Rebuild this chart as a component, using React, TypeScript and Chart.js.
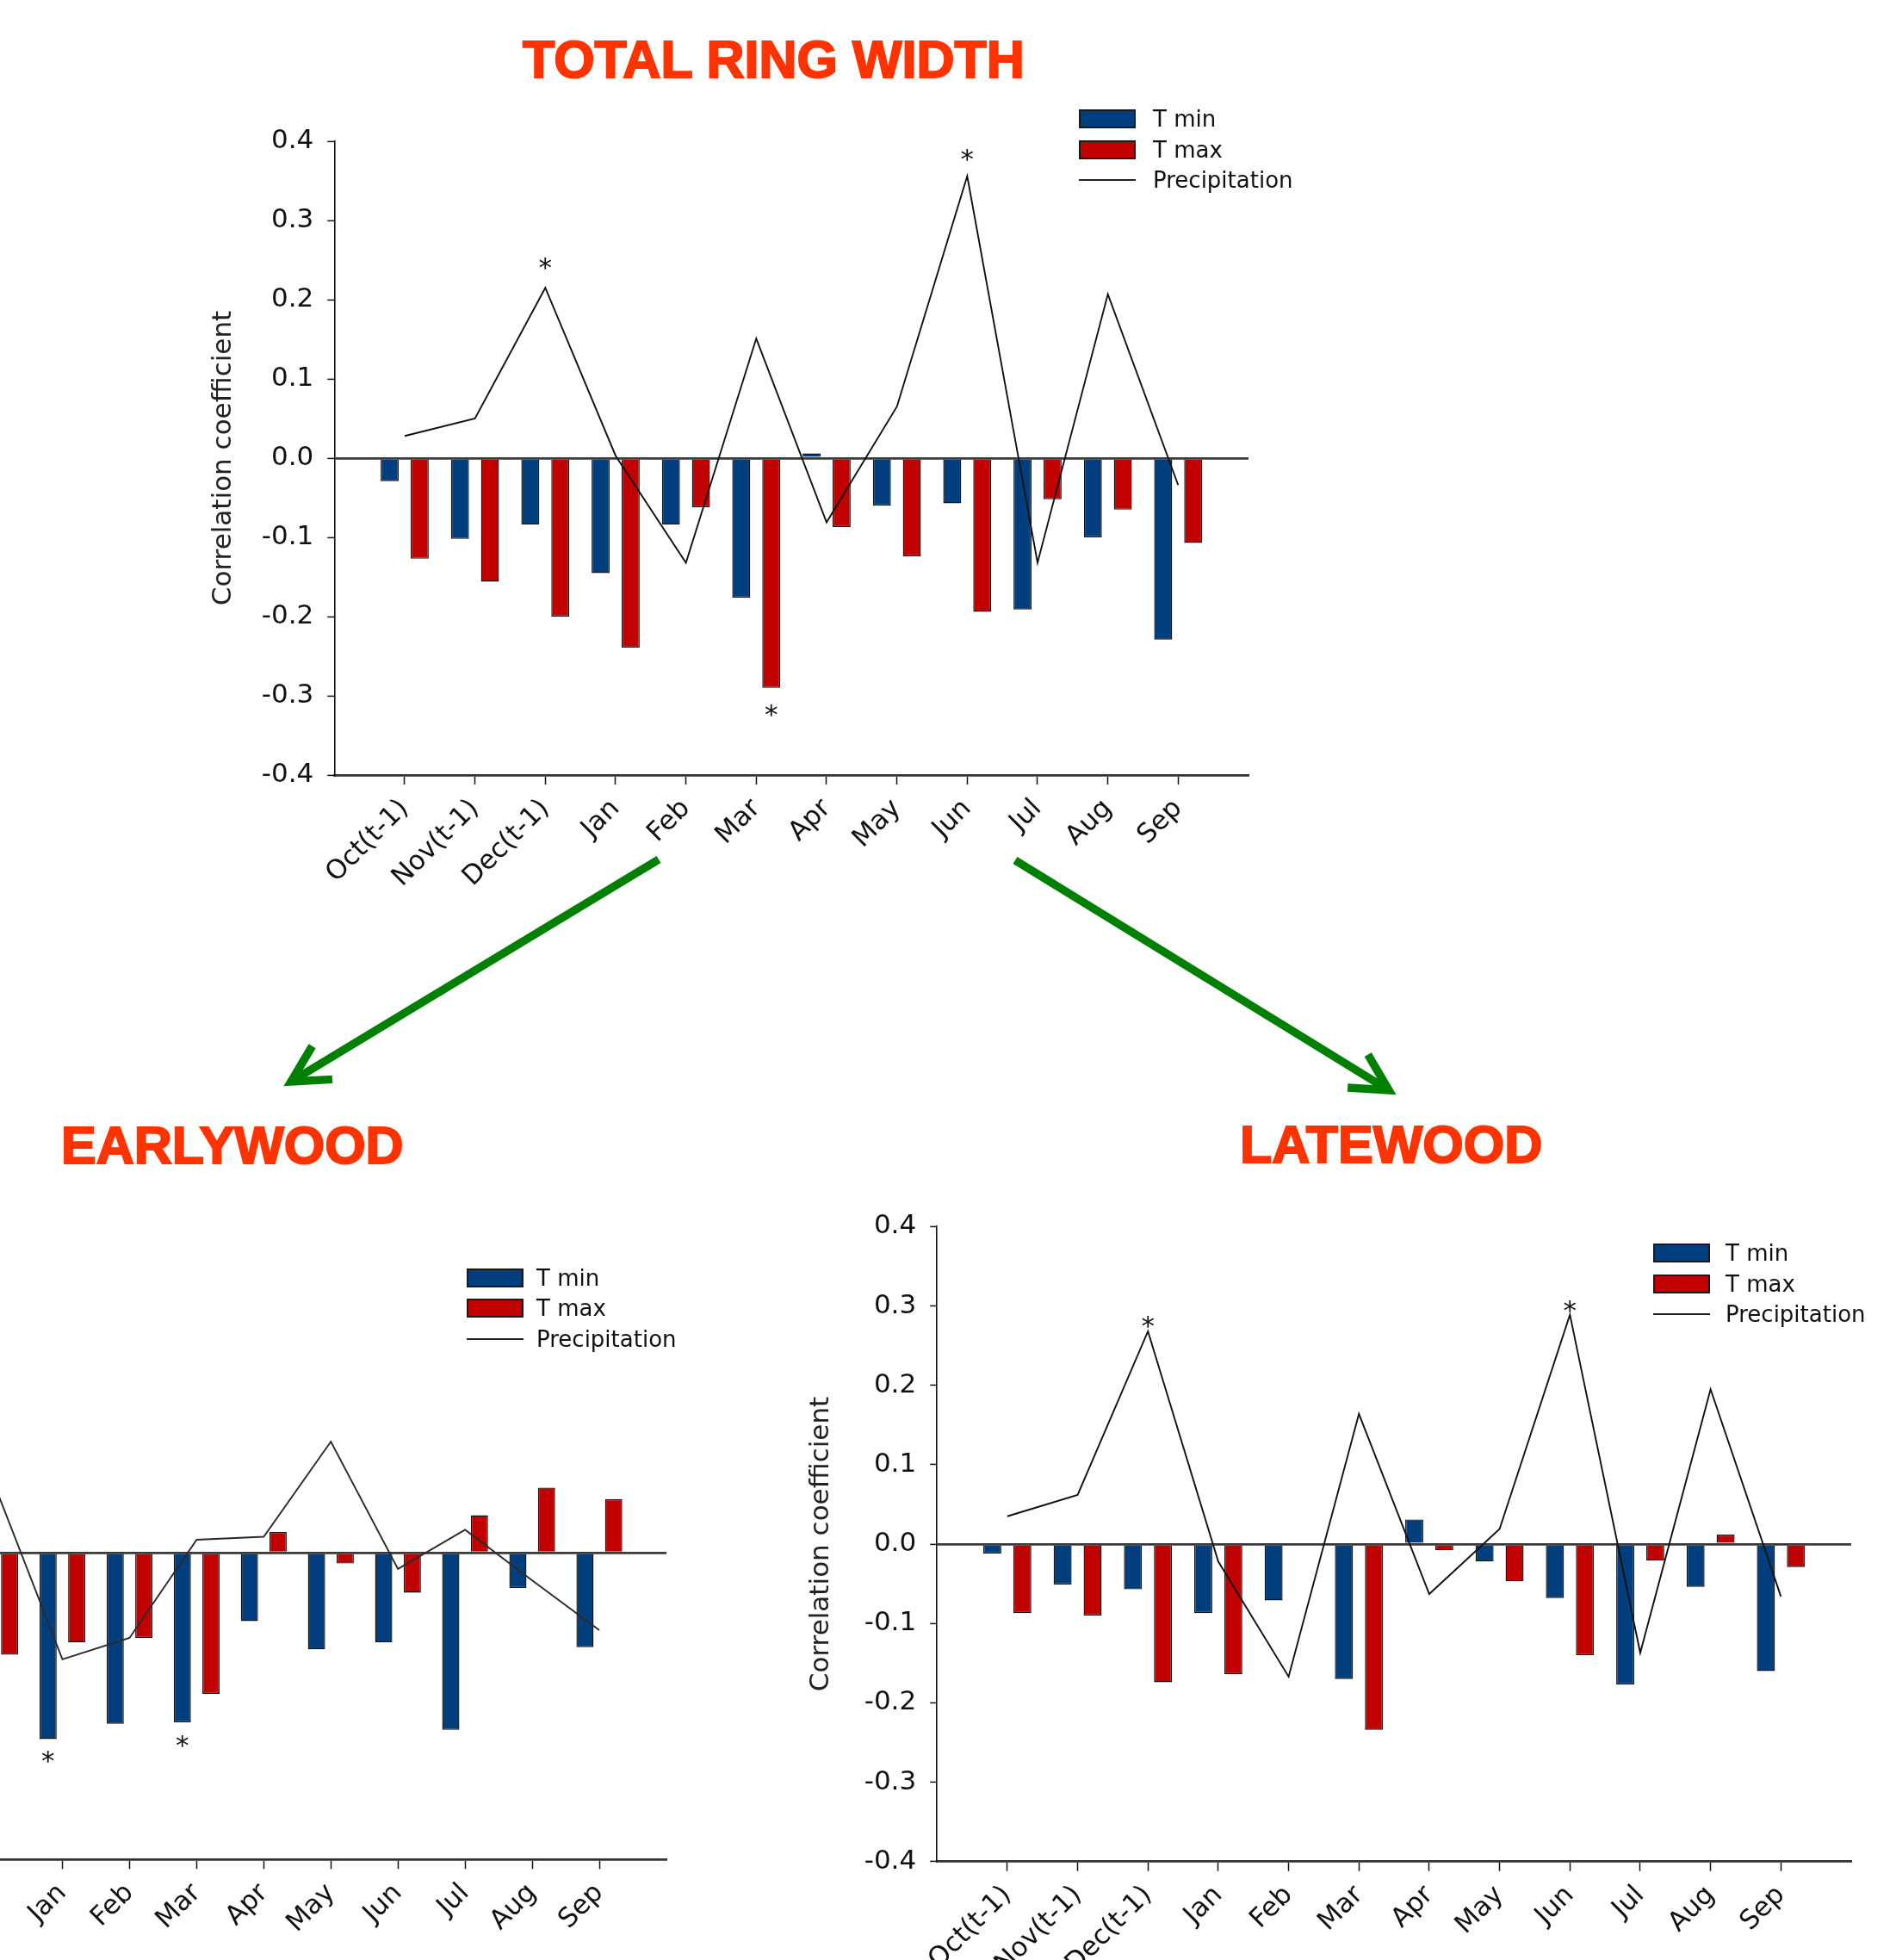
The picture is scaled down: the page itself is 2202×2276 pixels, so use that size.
import React, { useEffect, useRef } from 'react';
import { Chart, registerables } from 'chart.js';

Chart.register(...registerables);

// ---------------- data ----------------
const months = ['Oct(t-1)', 'Nov(t-1)', 'Dec(t-1)', 'Jan', 'Feb', 'Mar', 'Apr', 'May', 'Jun', 'Jul', 'Aug', 'Sep'];
const yTickValues = [-0.4, -0.3, -0.2, -0.1, 0, 0.1, 0.2, 0.3, 0.4];
const seriesNames = ['T min', 'T max', 'Precipitation'];

// Total ring width
const trwTmin = [-0.029, -0.102, -0.084, -0.145, -0.084, -0.176, 0.006, -0.060, -0.057, -0.191, -0.100, -0.229];
const trwTmax = [-0.127, -0.156, -0.200, -0.239, -0.062, -0.290, -0.087, -0.124, -0.194, -0.052, -0.065, -0.107];
const trwPrec = [0.028, 0.050, 0.215, 0.003, -0.132, 0.151, -0.081, 0.065, 0.356, -0.132, 0.207, -0.034];
const trwStars = [
  { month: 'Dec(t-1)', series: 2, value: 0.248 },
  { month: 'Jun', series: 2, value: 0.385 },
  { month: 'Mar', series: 1, value: -0.316 },
];

// Earlywood (left part of this panel lies outside the picture)
const ewTmin = [null, null, null, -0.243, -0.223, -0.221, -0.089, -0.126, -0.117, -0.231, -0.046, -0.123];
const ewTmax = [null, null, -0.133, -0.117, -0.111, -0.184, 0.027, -0.014, -0.052, 0.049, 0.085, 0.070];
const ewPrec = [null, null, 0.086, -0.139, -0.111, 0.017, 0.021, 0.145, -0.021, 0.030, -0.036, -0.101];
const ewStars = [
  { month: 'Jan', series: 0, value: -0.263 },
  { month: 'Mar', series: 0, value: -0.243 },
];

// Latewood
const lwTmin = [-0.012, -0.051, -0.057, -0.087, -0.071, -0.170, 0.031, -0.022, -0.068, -0.177, -0.054, -0.160];
const lwTmax = [-0.087, -0.090, -0.174, -0.164, 0.0, -0.234, -0.008, -0.047, -0.140, -0.021, 0.012, -0.029];
const lwPrec = [0.035, 0.062, 0.268, -0.022, -0.167, 0.164, -0.063, 0.019, 0.289, -0.137, 0.195, -0.066];
const lwStars = [
  { month: 'Dec(t-1)', series: 2, value: 0.283 },
  { month: 'Jun', series: 2, value: 0.302 },
];

// ---------------- styles ----------------
const TMIN_COLOR = '#013E7E';
const TMAX_COLOR = '#C10000';
const TITLE_COLOR = '#FF3300';
const FONT = '"DejaVu Sans", sans-serif';

Chart.defaults.font.family = FONT;

type Geo = {
  cl: number; ct: number; cw: number; ch: number;
  areaLeft: number; areaRight: number; areaTop: number; areaBottom: number;
  yTitleCenter: number; xAxisH: number; lineColor: string;
};

const pad = (a: (number | null)[]) => [null, ...a, null];

function starPlugin(stars: { month: string; series: number; value: number }[]) {
  return {
    id: 'stars',
    afterDraw(chart: any) {
      const ctx = chart.ctx;
      const size = 31;
      ctx.save();
      ctx.font = `${size}px ${FONT}`;
      ctx.fillStyle = '#111';
      ctx.textAlign = 'center';
      ctx.textBaseline = 'alphabetic';
      for (const s of stars) {
        const idx = chart.data.labels.indexOf(s.month);
        const el = chart.getDatasetMeta(s.series).data[idx];
        if (!el) continue;
        const y = chart.scales.y.getPixelForValue(s.value);
        ctx.fillText('*', el.x, y + 0.56 * size);
      }
      ctx.restore();
    },
  };
}

function buildConfig(tmin: any[], tmax: any[], prec: any[], stars: any[], g: Geo): any {
  const labels = ['', ...months, ''];
  const yLeft = g.yTitleCenter - 18.6;
  const yw = g.areaLeft - yLeft;
  const padding = {
    left: yLeft - g.cl,
    top: g.areaTop - g.ct,
    right: g.cl + g.cw - g.areaRight,
    bottom: g.ct + g.ch - g.areaBottom - g.xAxisH,
  };
  const barCommon = {
    type: 'bar',
    categoryPercentage: 0.854,
    barPercentage: 0.6,
    borderColor: '#151515',
    borderWidth: 1.4,
  };
  return {
    type: 'bar',
    data: {
      labels,
      datasets: [
        { ...barCommon, label: seriesNames[0], data: pad(tmin), backgroundColor: TMIN_COLOR },
        { ...barCommon, label: seriesNames[1], data: pad(tmax), backgroundColor: TMAX_COLOR },
        {
          type: 'line', label: seriesNames[2], data: pad(prec), borderColor: g.lineColor, borderWidth: 1.9,
          pointRadius: 0, tension: 0, spanGaps: false, fill: false, order: -1,
        },
      ],
    },
    options: {
      responsive: false,
      animation: false,
      devicePixelRatio: 1,
      events: [],
      layout: { padding },
      plugins: { legend: { display: false }, tooltip: { enabled: false }, title: { display: false } },
      scales: {
        x: {
          type: 'category',
          offset: false,
          grid: {
            offset: false,
            drawOnChartArea: false,
            drawTicks: true,
            tickLength: 11,
            tickWidth: 1.5,
            tickColor: (c: any) => (c.index === 0 || c.index === labels.length - 1 ? 'rgba(0,0,0,0)' : '#111'),
          },
          border: { display: true, color: '#333', width: 2.8 },
          ticks: { autoSkip: false, maxRotation: 45, minRotation: 45, font: { size: 31 }, color: '#111', padding: 10 },
          afterFit: (s: any) => { s.height = g.xAxisH; },
        },
        y: {
          min: -0.4,
          max: 0.4,
          z: 1,
          afterBuildTicks: (s: any) => { s.ticks = yTickValues.map((v) => ({ value: v })); },
          ticks: { callback: (v: any) => Number(v).toFixed(1), font: { size: 31 }, color: '#111', padding: 16 },
          grid: {
            drawOnChartArea: true,
            drawTicks: true,
            tickLength: 8,
            tickWidth: 1.5,
            tickColor: '#111',
            color: (c: any) => (c.tick && Math.abs(c.tick.value) < 1e-9 ? '#3a3a3a' : 'rgba(0,0,0,0)'),
            lineWidth: 2.8,
          },
          border: { display: true, color: '#111', width: 1.6 },
          title: { display: true, text: 'Correlation coefficient', font: { size: 31 }, color: '#222', padding: 0 },
          afterFit: (s: any) => { s.width = yw; },
        },
      },
    },
    plugins: [starPlugin(stars)],
  };
}

function ChartPanel({ tmin, tmax, prec, stars, geo }: any) {
  const ref = useRef<HTMLCanvasElement>(null);
  useEffect(() => {
    const chart = new Chart(ref.current as HTMLCanvasElement, buildConfig(tmin, tmax, prec, stars, geo));
    return () => chart.destroy();
  }, []);
  return (
    <canvas
      ref={ref}
      width={geo.cw}
      height={geo.ch}
      style={{ position: 'absolute', left: geo.cl, top: geo.ct, width: geo.cw, height: geo.ch }}
    />
  );
}

function Legend({ x, y, textX }: { x: number; y: number; textX: number }) {
  const rows = [
    { kind: 'box', color: TMIN_COLOR, label: seriesNames[0] },
    { kind: 'box', color: TMAX_COLOR, label: seriesNames[1] },
    { kind: 'line', color: '#222', label: seriesNames[2] },
  ];
  return (
    <>
      {rows.map((r, i) => {
        const cy = y + i * 35.5;
        return (
          <React.Fragment key={i}>
            {r.kind === 'box' ? (
              <div style={{ position: 'absolute', left: x, top: cy - 11, width: 66, height: 22, boxSizing: 'border-box', background: r.color, border: '2px solid #1a1a1a' }} />
            ) : (
              <div style={{ position: 'absolute', left: x, top: cy - 1, width: 66, height: 2, background: r.color }} />
            )}
            <div style={{ position: 'absolute', left: textX, top: cy - 16, height: 32, lineHeight: '32px', fontFamily: FONT, fontSize: 26, color: '#111', whiteSpace: 'nowrap' }}>
              {r.label}
            </div>
          </React.Fragment>
        );
      })}
    </>
  );
}

function Title({ text, x, y }: { text: string; x: number; y: number }) {
  return (
    <div style={{
      position: 'absolute', left: x, top: y, fontFamily: '"Liberation Sans", Arial, sans-serif', fontWeight: 700,
      fontSize: 61, lineHeight: '61px', color: TITLE_COLOR, whiteSpace: 'nowrap', WebkitTextStroke: `2px ${TITLE_COLOR}`,
    }}>{text}</div>
  );
}

function arrowHead(sx: number, sy: number, tx: number, ty: number, len: number, ang: number) {
  const dx = sx - tx, dy = sy - ty;
  const d = Math.hypot(dx, dy);
  const ux = dx / d, uy = dy / d;
  const a = (ang * Math.PI) / 180;
  const r = (s: number) => [tx + len * (ux * Math.cos(s * a) - uy * Math.sin(s * a)), ty + len * (ux * Math.sin(s * a) + uy * Math.cos(s * a))];
  const p1 = r(1), p2 = r(-1);
  return `${p1[0]},${p1[1]} ${tx},${ty} ${p2[0]},${p2[1]}`;
}

const arrows = [
  { sx: 765, sy: 998, tx: 338, ty: 1256 },
  { sx: 1179, sy: 999, tx: 1613, ty: 1266 },
];

const geoTop: Geo = { cl: 200, ct: 100, cw: 1300, ch: 980, areaLeft: 388.3, areaRight: 1450, areaTop: 164, areaBottom: 900, yTitleCenter: 260, xAxisH: 150, lineColor: '#111' };
const geoEW: Geo = { cl: -440, ct: 1400, cw: 1260, ch: 940, areaLeft: -239.3, areaRight: 774, areaTop: 1447, areaBottom: 2159.3, yTitleCenter: -370.7, xAxisH: 150, lineColor: '#2a2a2a' };
const geoLW: Geo = { cl: 880, ct: 1380, cw: 1322, ch: 960, areaLeft: 1088.2, areaRight: 2150, areaTop: 1424.3, areaBottom: 2161.7, yTitleCenter: 954, xAxisH: 150, lineColor: '#111' };

export default function App() {
  return (
    <div style={{ position: 'absolute', left: 0, top: 0, width: 2202, height: 2276, overflow: 'hidden', background: '#fff' }}>
      <Title text="TOTAL RING WIDTH" x={607} y={39} />
      <Title text="EARLYWOOD" x={71} y={1300} />
      <Title text="LATEWOOD" x={1440} y={1299} />
      <ChartPanel tmin={trwTmin} tmax={trwTmax} prec={trwPrec} stars={trwStars} geo={geoTop} />
      <ChartPanel tmin={ewTmin} tmax={ewTmax} prec={ewPrec} stars={ewStars} geo={geoEW} />
      <ChartPanel tmin={lwTmin} tmax={lwTmax} prec={lwPrec} stars={lwStars} geo={geoLW} />
      <Legend x={1253} y={138} textX={1339} />
      <Legend x={542} y={1483.5} textX={623} />
      <Legend x={1920} y={1455} textX={2004} />
      <svg width={2202} height={2276} style={{ position: 'absolute', left: 0, top: 0, pointerEvents: 'none' }}>
        {arrows.map((a, i) => (
          <g key={i} stroke="#008000" strokeWidth={9.5} fill="none">
            <line x1={a.sx} y1={a.sy} x2={a.tx} y2={a.ty} />
            <polyline points={arrowHead(a.sx, a.sy, a.tx, a.ty, 48, 28)} strokeLinejoin="miter" strokeMiterlimit={10} />
          </g>
        ))}
      </svg>
    </div>
  );
}
